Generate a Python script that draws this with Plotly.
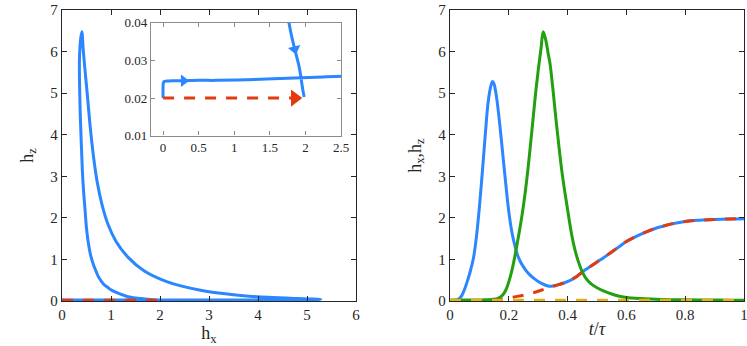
import plotly.graph_objects as go

# time grid t/tau and the two field components
t = [0, 0.005, 0.01, 0.02, 0.03, 0.04, 0.05, 0.06, 0.07, 0.08, 0.09, 0.10, 0.11, 0.12, 0.13, 0.14, 0.145,
     0.15, 0.155, 0.16, 0.17, 0.18, 0.19, 0.20, 0.21, 0.22, 0.23, 0.24, 0.25, 0.26, 0.27, 0.28, 0.29,
     0.30, 0.306, 0.31, 0.317, 0.325, 0.334, 0.34, 0.35, 0.36, 0.37, 0.38, 0.39, 0.40, 0.41, 0.42,
     0.43, 0.44, 0.45, 0.46, 0.48, 0.50, 0.52, 0.55, 0.58, 0.60, 0.65, 0.70, 0.725, 0.75, 0.80, 0.85,
     0.90, 0.95, 1.0]
hx = [0, 0.0, 0.004, 0.015, 0.05, 0.13, 0.29, 0.50, 0.74, 1.04, 1.55, 2.25, 3.10, 4.00, 4.80, 5.20, 5.28,
      5.22, 5.05, 4.82, 4.20, 3.50, 2.80, 2.15, 1.68, 1.35, 1.10, 0.94, 0.82, 0.72, 0.64, 0.575, 0.52,
      0.47, 0.445, 0.43, 0.405, 0.38, 0.36, 0.355, 0.36, 0.375, 0.395, 0.415, 0.44, 0.47, 0.50, 0.54,
      0.585, 0.64, 0.70, 0.75, 0.845, 0.94, 1.03, 1.18, 1.33, 1.43, 1.61, 1.75, 1.80, 1.85, 1.915, 1.945,
      1.963, 1.975, 1.982]
hz = [0.0200, 0.0232, 0.0240, 0.0244, 0.0245, 0.0246, 0.0246, 0.0247, 0.0247, 0.0248, 0.0251, 0.0256,
      0.0262, 0.0275, 0.030, 0.035, 0.040,
      0.045, 0.050, 0.058, 0.088, 0.150, 0.265, 0.46, 0.72, 1.05, 1.44, 1.84, 2.30, 2.85, 3.50, 4.20, 4.92,
      5.55, 5.88, 6.10, 6.48, 6.30, 5.95, 5.72, 5.10, 4.40, 3.75, 3.15, 2.65, 2.20, 1.75, 1.38,
      1.10, 0.88, 0.70, 0.57, 0.41, 0.32, 0.25, 0.17, 0.11, 0.085, 0.058, 0.042, 0.037, 0.033, 0.028, 0.0245,
      0.0222, 0.0210, 0.0203]

# target fields (dashed)
t_ref = [0, 0.05, 0.10, 0.13, 0.16, 0.19, 0.22, 0.25, 0.28, 0.31, 0.34, 0.37, 0.40, 0.42, 0.44, 0.46,
         0.48, 0.50, 0.55, 0.60, 0.65, 0.70, 0.75, 0.80, 0.85, 0.90, 0.95, 1.0]
hx_ref = [0, 0, 0, 0.003, 0.02, 0.06, 0.10, 0.14, 0.19, 0.26, 0.34, 0.395, 0.47, 0.54, 0.64, 0.75,
          0.845, 0.94, 1.18, 1.43, 1.61, 1.75, 1.85, 1.915, 1.945, 1.963, 1.975, 1.982]
hz_ref = [0.02, 0.02, 0.02, 0.02, 0.02, 0.02, 0.02, 0.02, 0.02, 0.02, 0.02, 0.02, 0.02, 0.02, 0.02, 0.02,
          0.02, 0.02, 0.02, 0.02, 0.02, 0.02, 0.02, 0.02, 0.02, 0.02, 0.02, 0.02]

# where the direction arrows sit in the inset (index into the series)
arrow_up_branch = t.index(0.05)
arrow_down_branch = t.index(0.75)
arrow_ref = t_ref.index(0.75)

BLUE = '#2b86ff'
GREEN = '#22a00f'
RED = '#e43a10'
ORANGE = '#e5b20e'
FONT = 'Liberation Serif, Times New Roman, DejaVu Serif, serif'
INK = '#262626'
DASH = '11px,10px'

fig = go.Figure()

# left panel: hz vs hx
fig.add_trace(go.Scatter(x=hx, y=hz, mode='lines', line=dict(color=BLUE, width=3, shape='spline'),
                         xaxis='x', yaxis='y'))
fig.add_trace(go.Scatter(x=hx_ref, y=hz_ref, mode='lines', line=dict(color=RED, width=3, dash=DASH),
                         xaxis='x', yaxis='y'))

# right panel: time traces
fig.add_trace(go.Scatter(x=t, y=hx, mode='lines', line=dict(color=BLUE, width=3, shape='spline'),
                         xaxis='x2', yaxis='y2'))
fig.add_trace(go.Scatter(x=t, y=hz, mode='lines', line=dict(color=GREEN, width=3, shape='spline'),
                         xaxis='x2', yaxis='y2'))
fig.add_trace(go.Scatter(x=t_ref, y=hx_ref, mode='lines', line=dict(color=RED, width=3, dash=DASH, shape='spline'),
                         xaxis='x2', yaxis='y2'))
fig.add_trace(go.Scatter(x=t_ref, y=hz_ref, mode='lines', line=dict(color=ORANGE, width=3, dash=DASH),
                         xaxis='x2', yaxis='y2'))

# inset: zoom near hz = 0.02
fig.add_trace(go.Scatter(x=hx, y=hz, mode='lines', line=dict(color=BLUE, width=3, shape='spline'),
                         xaxis='x3', yaxis='y3'))
fig.add_trace(go.Scatter(x=hx_ref, y=hz_ref, mode='lines', line=dict(color=RED, width=3, dash=DASH),
                         xaxis='x3', yaxis='y3'))


def arrow(xs, ys, i, color, size):
    return go.Scatter(x=[xs[i - 1], xs[i]], y=[ys[i - 1], ys[i]], mode='markers',
                      marker=dict(symbol='triangle-up', size=[0, size], color=color, opacity=[0, 1],
                                  angleref='previous', line=dict(width=0)),
                      xaxis='x3', yaxis='y3', cliponaxis=False)


fig.add_trace(arrow(hx, hz, arrow_up_branch, BLUE, 11))
fig.add_trace(arrow(hx, hz, arrow_down_branch, BLUE, 11))
fig.add_trace(arrow(hx_ref, hz_ref, arrow_ref, RED, 15))

axis_main = dict(showline=True, linecolor=INK, linewidth=1.3, mirror='ticks', ticks='inside',
                 ticklen=5, tickcolor=INK, showgrid=False, zeroline=False, automargin=False,
                 ticklabeloverflow='allow',
                 tickfont=dict(family=FONT, size=15, color=INK))
axis_inset = dict(showline=True, linecolor='#8c8c8c', linewidth=1.3, mirror='ticks', ticks='inside',
                  ticklen=4, tickcolor='#8c8c8c', showgrid=False, zeroline=False, automargin=False,
                  ticklabeloverflow='allow',
                  tickfont=dict(family=FONT, size=13, color=INK))
title_font = dict(family=FONT, size=18, color=INK)

fig.update_layout(
    width=747, height=346, autosize=False,
    margin=dict(l=0, r=0, t=0, b=0),
    paper_bgcolor='white', plot_bgcolor='white',
    showlegend=False, hovermode=False,
    font=dict(family=FONT, color=INK),
    xaxis=dict(axis_main, domain=[0.083, 0.4766], range=[0, 6], dtick=1, anchor='y',
               title=dict(text='h<sub>x</sub>', font=title_font, standoff=0)),
    yaxis=dict(axis_main, domain=[0.130, 0.971], range=[0, 7], dtick=1, anchor='x',
               title=dict(text='h<sub>z</sub>', font=title_font, standoff=12)),
    xaxis2=dict(axis_main, domain=[0.6024, 0.996], range=[0, 1], dtick=0.2, anchor='y2',
                title=dict(text='<i>t</i>/<i>τ</i>', font=title_font, standoff=0)),
    yaxis2=dict(axis_main, domain=[0.130, 0.971], range=[0, 7], dtick=1, anchor='x2',
                title=dict(text='h<sub>x</sub>,h<sub>z</sub>', font=title_font, standoff=12)),
    xaxis3=dict(axis_inset, domain=[0.2021, 0.4565], range=[-0.17, 2.5], dtick=0.5, anchor='y3'),
    yaxis3=dict(axis_inset, domain=[0.608, 0.934], range=[0.01, 0.04], dtick=0.01, anchor='x3',
                tickformat='.2f'),
)

# drop the browser's default body margin so the figure fills the window
fig.write_html("out.html", config={'displayModeBar': False},
               post_script="document.body.style.margin='0';")
